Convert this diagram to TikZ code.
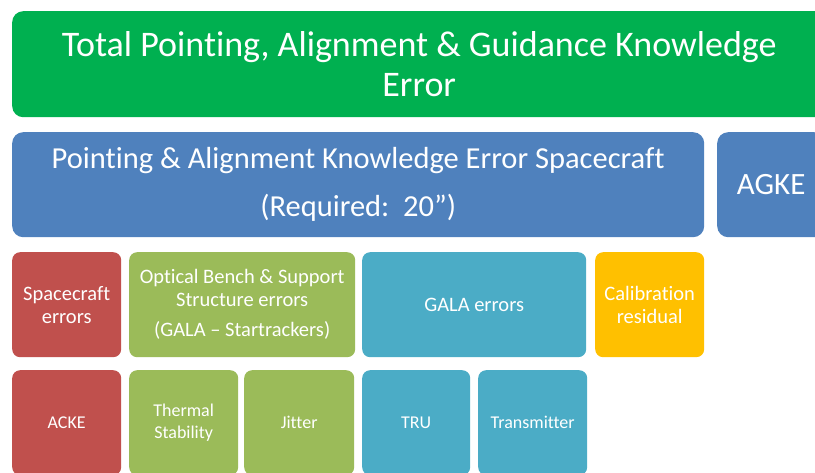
\documentclass[tikz,border=0pt]{standalone}
\usepackage{fontspec}
\setmainfont{Carlito}[Ligatures=NoCommon]
\definecolor{kgreen}{HTML}{00B050}
\definecolor{kblue}{HTML}{4F81BD}
\definecolor{kred}{HTML}{C0504D}
\definecolor{kolive}{HTML}{9BBB59}
\definecolor{kteal}{HTML}{4BACC6}
\definecolor{kyellow}{HTML}{FFC000}
\tikzset{
    errbox/.style={anchor=north west, inner sep=0pt, text=white, align=center,
        rounded corners=8pt, font=\fontsize{20.5}{23}\selectfont},
    subbox/.style={errbox, font=\fontsize{18}{22}\selectfont},
    bigbox/.style={errbox, rounded corners=11pt},
}
\begin{document}
\begin{tikzpicture}[x=1pt,y=-1pt]
        \useasboundingbox (0,0) rectangle (815,472);
        \clip (0,0) rectangle (815,472);
        %% total error
        \node[bigbox, fill=kgreen, minimum width=814pt, minimum height=106pt,
            font=\fontsize{36}{40}\selectfont] (total) at (12,11)
            {Total Pointing, Alignment \& Guidance Knowledge\\Error};
        %% spacecraft budget and AGKE
        \node[bigbox, fill=kblue, minimum width=692pt, minimum height=105pt,
            font=\fontsize{30.5}{48}\selectfont] (pake) at (12,132)
            {Pointing \& Alignment Knowledge Error Spacecraft\\(Required:\ \ 20”)};
        \node[bigbox, fill=kblue, minimum width=108pt, minimum height=105pt,
            font=\fontsize{31}{36}\selectfont] (agke) at (717,132) {AGKE};
        %% contributors
        \node[errbox, fill=kred, minimum width=109pt, minimum height=105pt] (scerr) at (12,252)
            {Spacecraft\\errors};
        \node[errbox, fill=kolive, minimum width=226pt, minimum height=105pt] (bench) at (129,252)
            {Optical Bench \& Support\\Structure errors\\[7pt](GALA – Startrackers)};
        \node[errbox, fill=kteal, minimum width=224pt, minimum height=105pt] (gala) at (362,252)
            {GALA errors};
        \node[errbox, fill=kyellow, minimum width=109pt, minimum height=105pt] (calib) at (595,252)
            {Calibration\\residual};
        %% sub-contributors
        \node[subbox, fill=kred, minimum width=109pt, minimum height=105pt] (acke) at (12,370)
            {ACKE};
        \node[subbox, fill=kolive, minimum width=109pt, minimum height=105pt] (thermal) at (129,370)
            {Thermal\\Stability};
        \node[subbox, fill=kolive, minimum width=110pt, minimum height=105pt] (jitter) at (244,370)
            {Jitter};
        \node[subbox, fill=kteal, minimum width=108pt, minimum height=105pt] (tru) at (362,370)
            {TRU};
        \node[subbox, fill=kteal, minimum width=109pt, minimum height=105pt] (trans) at (478,370)
            {Transmitter};
    \end{tikzpicture}
\end{document}
